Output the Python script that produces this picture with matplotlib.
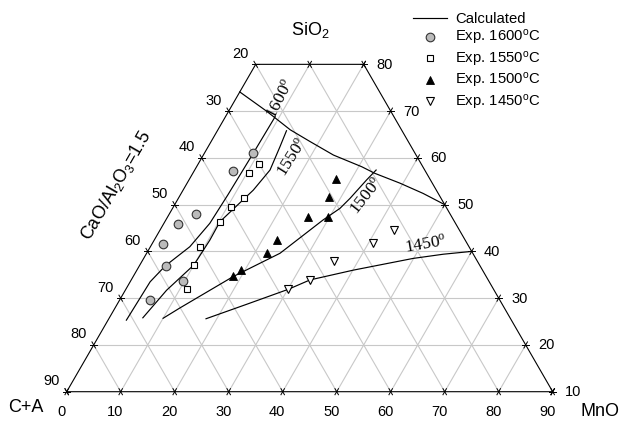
import numpy as np
import matplotlib
matplotlib.use("Agg")
import matplotlib.pyplot as plt

plt.rcParams['font.family'] = ['Liberation Sans', 'DejaVu Sans']
plt.rcParams['mathtext.fontset'] = 'custom'
plt.rcParams['mathtext.rm'] = 'Liberation Serif'
plt.rcParams['mathtext.sf'] = 'Liberation Sans'
plt.rcParams['mathtext.it'] = 'Liberation Sans:italic'

# compositions as (MnO, SiO2) wt%, C+A = 100 - MnO - SiO2
bound_mno = [0.0, 7.0, 13.4, 18.3, 24.1, 30.6, 33.7, 39.4, 44.8, 50.0]
bound_sio2 = [74.1, 70.0, 66.0, 63.5, 60.6, 58.1, 56.7, 54.6, 52.4, 50.0]

c1600_mno = [3.4, 3.7, 4.8, 7.3, 8.5, 8.8, 9.05, 9.2]
c1600_sio2 = [25.3, 33.5, 36.9, 41.0, 46.0, 52.1, 61.0, 68.8]

c1550_mno = [6.2, 7.65, 10.0, 10.3, 10.2, 13.0, 13.95, 13.3, 12.8]
c1550_sio2 = [25.8, 31.7, 37.1, 42.4, 46.35, 53.1, 57.4, 62.4, 65.8]

c1500_mno = [10.0, 12.0, 18.5, 24.7, 29.1, 31.0, 31.8, 32.9, 33.6]
c1500_sio2 = [25.7, 27.9, 34.6, 39.6, 46.7, 49.2, 51.35, 55.3, 57.4]

c1450_mno = [18.0, 24.0, 30.1, 33.1, 40.1, 49.9, 55.05, 60.0]
c1450_sio2 = [25.6, 28.7, 31.9, 33.9, 36.0, 38.5, 39.4, 40.0]

# experimental points
e1600_mno = [8.95, 7.2, 4.9, 2.8, 2.1, 4.9, 9.7, 5.6]
e1600_sio2 = [61.0, 57.25, 48.0, 45.8, 41.6, 36.9, 33.7, 29.6]

e1550_mno = [11.3, 10.4, 12.2, 10.6, 10.2, 9.25, 10.0, 11.35]
e1550_sio2 = [58.6, 56.7, 51.35, 49.55, 46.35, 40.9, 37.1, 32.0]

e1500_mno = [27.2, 27.8, 26.1, 29.6, 22.7, 22.2, 19.2, 18.5]
e1500_sio2 = [55.4, 51.7, 47.3, 47.4, 42.4, 39.6, 36.1, 34.7]

e1450_mno = [43.3, 40.7, 35.5, 33.1, 30.1]
e1450_sio2 = [44.5, 41.9, 38.0, 33.9, 31.9]

bottom_ticks = list(range(0, 100, 10))      # MnO
side_ticks = list(range(10, 90, 10))        # SiO2 on the right, C+A = 100 - SiO2 on the left

S3 = np.sqrt(3) / 2
SCALE = 5.4            # px per wt%
X0, Y0 = 66.7, 391.7   # pixel of the C+A corner


def tern(mno, sio2):
    mno = np.asarray(mno, float)
    sio2 = np.asarray(sio2, float)
    return mno + (sio2 - 10) / 2, (sio2 - 10) * S3


def pix(px, py):
    return (px - X0) / SCALE, (Y0 - py) / SCALE


def shifted(mno, sio2, dx, dy):
    x, y = tern(mno, sio2)
    return x + dx / SCALE, y - dy / SCALE


fig = plt.figure(figsize=(6.21, 4.21), dpi=100)
ax = fig.add_axes([0, 0, 1, 1])
xa, ya = pix(0, 421)
xb, yb = pix(621, 0)
ax.set_xlim(xa, xb)
ax.set_ylim(ya, yb)
ax.axis('off')

# grid
grid_kw = dict(color='#c8c8c8', lw=0.8, zorder=1)
for v in range(20, 80, 10):
    ax.plot(*tern([0, 100 - v], [v, v]), **grid_kw)
for v in range(10, 90, 10):
    top = min(80, 100 - v)
    ax.plot(*tern([v, v], [10, top]), **grid_kw)
for v in range(10, 90, 10):
    top = min(80, 100 - v)
    ax.plot(*tern([90 - v, 100 - v - top], [10, top]), **grid_kw)

# frame
ax.plot(*tern([0, 90, 20, 0, 0], [10, 10, 80, 80, 10]), color='k', lw=0.8, zorder=3)

# ticks (little crosses along the grid directions)
L = 3.5 / SCALE
dirs = {'h': (1, 0), 'a': (0.5, S3), 'b': (-0.5, S3)}


def tick(mno, sio2, d1, d2):
    x, y = tern(mno, sio2)
    for d in (d1, d2):
        dx, dy = dirs[d]
        ax.plot([x - L * dx, x + L * dx], [y - L * dy, y + L * dy], color='k', lw=0.7, zorder=3)


for m in bottom_ticks:
    tick(m, 10, 'a', 'b')
    ax.text(*shifted(m, 10, -5.5, 20.3), str(m), fontsize=10.5, ha='center', va='center')
for s in side_ticks:
    tick(0, s, 'h', 'b')
    tick(100 - s, s, 'h', 'a')
    ax.text(*shifted(0, s, -15, -10.5), str(100 - s), fontsize=10.5, ha='center', va='center')
    ax.text(*shifted(100 - s, s, 20.5, 0.5), str(s), fontsize=10.5, ha='center', va='center')
for m in (10, 20):
    tick(m, 80, 'a', 'b')
tick(90, 10, 'h', 'a')

# calculated curves
line_kw = dict(color='k', lw=0.85, zorder=4)
ax.plot(*tern(bound_mno, bound_sio2), label='Calculated', **line_kw)
ax.plot(*tern(c1600_mno, c1600_sio2), **line_kw)
ax.plot(*tern(c1550_mno, c1550_sio2), **line_kw)
ax.plot(*tern(c1500_mno, c1500_sio2), **line_kw)
ax.plot(*tern(c1450_mno, c1450_sio2), **line_kw)

# experimental points
ax.plot(*tern(e1600_mno, e1600_sio2), 'o', ms=6.2, mfc='#bbbbbb', mec='#333333', mew=0.8,
        label='Exp. 1600$^\\mathsf{o}$C', zorder=5)
ax.plot(*tern(e1550_mno, e1550_sio2), 's', ms=4.3, mfc='white', mec='k', mew=0.8,
        label='Exp. 1550$^\\mathsf{o}$C', zorder=5)
ax.plot(*tern(e1500_mno, e1500_sio2), '^', ms=5.3, mfc='k', mec='k', mew=0.6,
        label='Exp. 1500$^\\mathsf{o}$C', zorder=5)
ax.plot(*tern(e1450_mno, e1450_sio2), 'v', ms=5.3, mfc='white', mec='k', mew=0.8,
        label='Exp. 1450$^\\mathsf{o}$C', zorder=5)

# isotherm labels
lab_kw = dict(family='Liberation Serif', fontsize=12.5, ha='center', va='center',
              rotation_mode='anchor')
ax.text(*pix(281, 99), '1600$^\\mathrm{o}$', rotation=63, **lab_kw)
ax.text(*pix(293, 157), '1550$^\\mathrm{o}$', rotation=58, **lab_kw)
ax.text(*pix(367, 196), '1500$^\\mathrm{o}$', rotation=52, **lab_kw)
ax.text(*pix(426, 245), '1450$^\\mathrm{o}$', rotation=10, **lab_kw)

# axis names
ax.text(*pix(310, 30), 'SiO$_\\mathsf{2}$', fontsize=13, ha='center', va='center')
ax.text(*pix(26, 407), 'C+A', fontsize=13, ha='center', va='center')
ax.text(*pix(580, 411), 'MnO', fontsize=13, ha='left', va='center')
ax.text(*pix(116, 185), 'CaO/Al$_\\mathsf{2}$O$_\\mathsf{3}$=1.5', fontsize=13, rotation=60,
        ha='center', va='center', rotation_mode='anchor')

ax.legend(loc='upper left', bbox_to_anchor=(413 / 621, 1 - 12 / 421), bbox_transform=fig.transFigure,
          frameon=False, fontsize=10.7, numpoints=1, handlelength=2.3, handletextpad=0.55,
          labelspacing=0.16, borderpad=0, borderaxespad=0)

fig.savefig('out.png', dpi=100)
